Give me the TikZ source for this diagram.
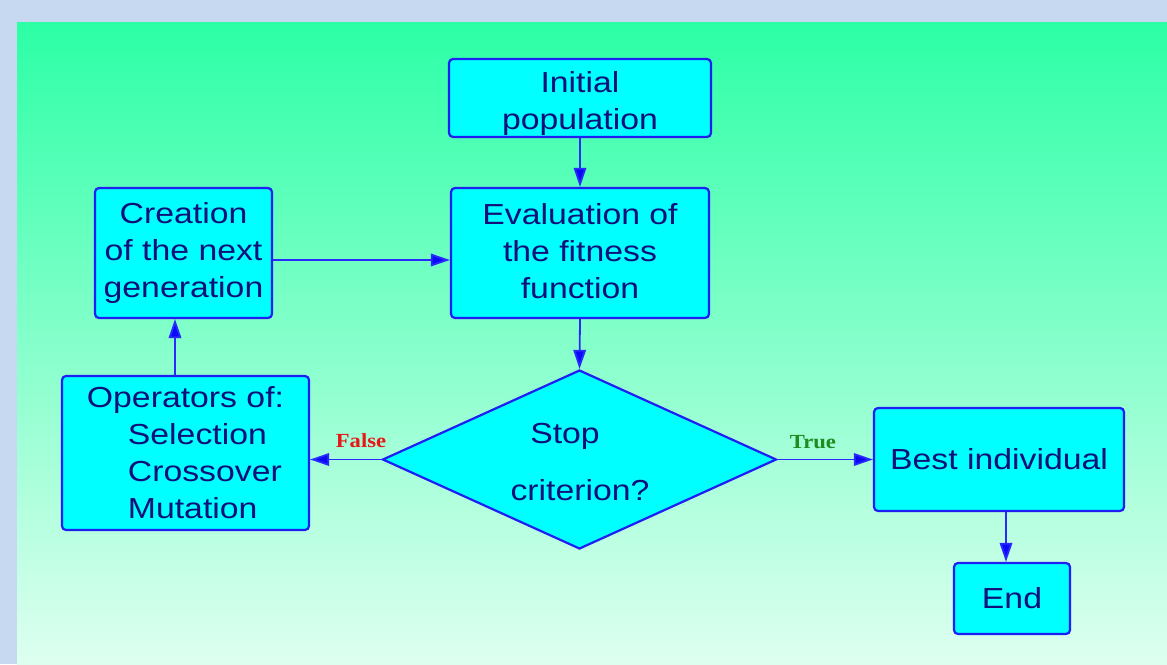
\documentclass[tikz,border=0pt]{standalone}
\usepackage{fontspec}
\setmainfont{Liberation Sans}[FakeStretch=1.165]
\newfontfamily\labelfont{Liberation Serif}[FakeStretch=1.13]
\usetikzlibrary{shapes.geometric,arrows.meta}
\definecolor{bgblue}{HTML}{C6D9F0}
\definecolor{gtop}{HTML}{2CFFA6}
\definecolor{gbot}{HTML}{DEFFF0}
\definecolor{boxfill}{HTML}{00FFFF}
\definecolor{boxline}{HTML}{1E1EF5}
\definecolor{lineblue}{HTML}{2A2AFF}
\definecolor{tipblue}{HTML}{0A0AF8}
\definecolor{navy}{HTML}{10107A}
\definecolor{falsered}{HTML}{E81818}
\definecolor{truegreen}{HTML}{1E8C1E}
\tikzset{
  fcbox/.style={draw=boxline, fill=boxfill, line width=2.2pt, rounded corners=4pt,
    text=navy, font=\fontsize{29}{37}\selectfont, inner sep=0pt, align=center},
  fcdiamond/.style={diamond, draw=boxline, fill=boxfill, line width=2.2pt, inner sep=0pt},
  fctext/.style={text=navy, font=\fontsize{29}{37}\selectfont, inner sep=0pt, align=center},
  conn/.style={draw=lineblue, line width=1.8pt, -{Triangle[length=19pt,width=12.5pt,fill=tipblue]}},
  lbl/.style={font=\labelfont\bfseries\fontsize{20}{24}\selectfont, inner sep=0pt}
}
\begin{document}
\begin{tikzpicture}[x=1pt,y=-1pt]
\useasboundingbox (0,0) rectangle (1167,664);
\fill[bgblue] (0,0) rectangle (1167,664);
\shade[top color=gtop, bottom color=gbot] (17,22) rectangle (1167,664);

\node[fcbox, minimum width=262pt, minimum height=78pt] (init) at (580,98) {};
\node[fctext] (inittext) at (580,103) {Initial\\population};
\node[fcbox, minimum width=258pt, minimum height=130pt] (eval) at (580,253) {};
\node[fctext] (evaltext) at (580,251) {Evaluation of\\the fitness\\function};
\node[fcbox, minimum width=177pt, minimum height=130pt] (create) at (183.5,253) {Creation\\of the next\\generation};
\node[fcbox, minimum width=247pt, minimum height=154pt, align=left] (oper) at (185.5,453)
  {Operators of:\\\hspace*{41pt}Selection\\\hspace*{41pt}Crossover\\\hspace*{41pt}Mutation};
\node[fcdiamond, minimum width=394pt, minimum height=179pt] (dia) at (579.5,459.5) {};
\node[fctext] (stop) at (565,436) {Stop};
\node[fctext] (crit) at (580,490) {criterion?};
\node[fcbox, minimum width=250pt, minimum height=103pt] (best) at (999,459.5) {Best individual};
\node[fcbox, minimum width=116pt, minimum height=71pt] (end) at (1012,598.5) {End};

\draw[conn] (init.south) -- (eval.north);
\draw[conn] (eval.south) -- (dia.north);
\draw[conn] ([yshift=-7pt]create.east) -- ([yshift=-7pt]eval.west);
\draw[conn] (oper.north -| 175,0) -- (create.south -| 175,0);
\draw[conn] (dia.west) -- (dia.west -| oper.east);
\draw[conn] (dia.east) -- (best.west);
\draw[conn] (best.south -| 1006,0) -- (end.north -| 1006,0);

\node[lbl, text=falsered] (flbl) at (361,441) {False};
\node[lbl, text=truegreen] (tlbl) at (813,442) {True};
\end{tikzpicture}
\end{document}
